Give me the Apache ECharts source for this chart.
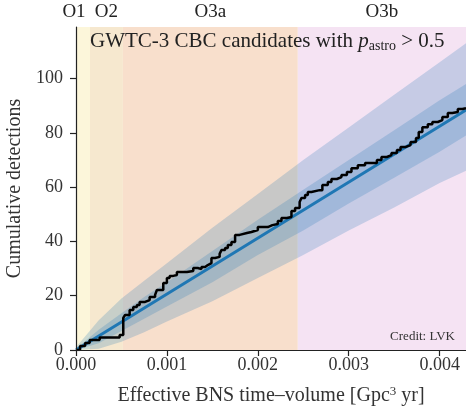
<!DOCTYPE html>
<html><head><meta charset="utf-8">
<script src="https://cdn.jsdelivr.net/npm/echarts@6/dist/echarts.min.js"></script>
<style>html,body{margin:0;padding:0;background:#fff}#c{width:466px;height:410px}</style>
</head><body><div id="c"></div>
<script>
// Observing runs (boundaries in Gpc^3 yr)
const runNames = ['O1', 'O2', 'O3a', 'O3b'];
const runBounds = [0, 0.000154, 0.000516, 0.00244, 0.00429];

// Expected (mean) line
const expX = [0, 0.00429];
const expY = [0, 88.4];

// Uncertainty bands
const bandX   = [0, 0.00025, 0.0005, 0.00075, 0.001, 0.0015, 0.002, 0.0025, 0.003, 0.0035, 0.004, 0.00429];
const outerLo = [0, 0.5, 3, 6.5, 10.5, 18, 26.5, 35, 44, 52.5, 61.5, 66];
const outerHi = [1, 11, 19, 25.5, 32, 45, 57.5, 70, 82, 94, 106, 113];
const innerLo = [0, 2.5, 7, 11.5, 16, 25, 35, 44, 54, 63.5, 73, 79];
const innerHi = [0.5, 7.5, 13.5, 19.5, 25, 36.5, 48, 59, 70, 81, 92, 98];

const obsX = [0, 0.000044, 0.0001, 0.00015, 0.00026, 0.00045, 0.00048, 0.00052, 0.00054, 0.00059, 0.00063, 0.00067, 0.0007, 0.00076, 0.00081, 0.00087, 0.00089, 0.00093, 0.00096, 0.001, 0.00103, 0.00107, 0.00111, 0.00122, 0.00129, 0.00134, 0.00138, 0.00142, 0.00145, 0.00149, 0.00153, 0.00158, 0.0016, 0.00164, 0.00167, 0.00171, 0.00175, 0.0018, 0.00188, 0.00193, 0.002, 0.00205, 0.00211, 0.00216, 0.00222, 0.00226, 0.00232, 0.00237, 0.00241, 0.00246, 0.00248, 0.00252, 0.00255, 0.00259, 0.00268, 0.00271, 0.00277, 0.00281, 0.00287, 0.00292, 0.00298, 0.00303, 0.0031, 0.00318, 0.00325, 0.00331, 0.00336, 0.00342, 0.00347, 0.00353, 0.00357, 0.00363, 0.00368, 0.00374, 0.00377, 0.00381, 0.00387, 0.00392, 0.00398, 0.00403, 0.00409, 0.00414, 0.0042, 0.00425, 0.00429];
const obsY = [0, 1.5, 2.6, 3.7, 4.6, 4.6, 5.5, 11.8, 12.9, 14.7, 15.8, 16.6, 17.7, 18.4, 19.5, 20.3, 22.1, 22.1, 24.7, 26.5, 27.3, 27.6, 28.7, 29.1, 30.2, 29.8, 30.6, 31.3, 32, 33.9, 34.3, 35.4, 36.8, 37.6, 38.7, 39.8, 42.4, 43.1, 43.5, 44.2, 45.3, 45.3, 46, 46.4, 47.5, 48.6, 49, 51.2, 52.3, 54.5, 56, 57.1, 58.2, 58.9, 58.9, 60.8, 61.9, 63, 63.7, 64.5, 65.6, 67, 68.1, 68.9, 68.9, 70, 71.1, 71.8, 72.6, 73.7, 74.8, 75.5, 76.6, 78.1, 80.3, 82.1, 83.2, 84, 84.7, 85.8, 87.3, 87.7, 88.8, 89.1, 89.1];

// Axis ticks
const xTicks = [0, 0.001, 0.002, 0.003, 0.004];
const yTicks = [0, 20, 40, 60, 80, 100];

const runColors = ['#fcf6da', '#f6e8cf', '#f8dfcc', '#f5e3f3'];
const runEdge = ['#f3dc9a', '#f2c594', '#ebbcc4'];
const FONT = "'Liberation Serif', 'DejaVu Serif', serif";

const chart = echarts.init(document.getElementById('c'), null, {renderer: 'canvas'});

function bandSeries(lo, hi, color, z) {
  return {
    type: 'custom', z: z, silent: true, clip: true,
    data: [0],
    renderItem: function (params, api) {
      const pts = [];
      for (let i = 0; i < bandX.length; i++) pts.push(api.coord([bandX[i], hi[i]]));
      for (let i = bandX.length - 1; i >= 0; i--) pts.push(api.coord([bandX[i], lo[i]]));
      return {type: 'polygon', shape: {points: pts}, style: {fill: color}};
    }
  };
}

const areas = runNames.map((n, i) => [
  {xAxis: runBounds[i], name: n, itemStyle: {color: runColors[i]},
   label: {offset: i === 0 ? [-9, 0] : [0, 0]}},
  {xAxis: runBounds[i + 1]}
]);

const option = {
  animation: false,
  grid: {left: 76, top: 27, right: 0, bottom: 60, outerBoundsMode: 'none', containLabel: false},
  xAxis: [{
    type: 'value', min: 0, max: 0.00429, interval: 0.001,
    name: 'Effective BNS time–volume [Gpc{sup|3} yr]',
    nameLocation: 'middle', nameGap: 35,
    nameTextStyle: {fontFamily: FONT, fontSize: 20, color: '#333',
      rich: {sup: {fontFamily: FONT, fontSize: 13, verticalAlign: 'top', padding: [0, 0, 9, 0], color: '#333'}}},
    axisLine: {show: true, onZero: false, lineStyle: {color: '#222', width: 1.2}},
    axisTick: {show: true, length: 6, lineStyle: {color: '#222', width: 1.2}},
    axisLabel: {fontFamily: FONT, fontSize: 18, color: '#333', margin: 6, showMaxLabel: false,
      formatter: v => xTicks.some(t => Math.abs(t - v) < 1e-9) ? v.toFixed(3) : ''},
    splitLine: {show: false}, z: 10
  }, {
    type: 'value', position: 'top', min: 0, max: 0.00429,
    axisLine: {show: true, lineStyle: {color: '#222', width: 1.2}},
    axisTick: {show: false}, axisLabel: {show: false}, splitLine: {show: false}, z: 10
  }],
  yAxis: {
    type: 'value', min: 0, max: 119, interval: 20,
    name: 'Cumulative detections', nameLocation: 'middle', nameGap: 51,
    nameTextStyle: {fontFamily: FONT, fontSize: 20, color: '#333'},
    axisLine: {show: true, onZero: false, lineStyle: {color: '#222', width: 1.2}},
    axisTick: {show: true, length: 6, lineStyle: {color: '#222', width: 1.2}},
    axisLabel: {fontFamily: FONT, fontSize: 18, color: '#333', margin: 13, showMaxLabel: false,
      formatter: v => yTicks.includes(v) ? String(v) : ''},
    splitLine: {show: false}, z: 10
  },
  series: [
    {
      type: 'line', data: [], z: 1, silent: true,
      markArea: {
        silent: true,
        label: {show: true, position: 'top', distance: 5, fontFamily: FONT, fontSize: 19, color: '#222'},
        data: areas
      },
      markLine: {
        silent: true, symbol: 'none', label: {show: false},
        data: runEdge.map((c, i) => ({xAxis: runBounds[i + 1], lineStyle: {color: c, width: 1, type: 'solid'}}))
      }
    },
    bandSeries(outerLo, outerHi, 'rgba(31,119,180,0.22)', 2),
    bandSeries(innerLo, innerHi, 'rgba(31,119,180,0.22)', 3),
    {
      type: 'line', z: 4, silent: true, symbol: 'none',
      data: expX.map((x, i) => [x, expY[i]]),
      lineStyle: {color: '#1f77b4', width: 3}
    },
    {
      type: 'line', z: 5, silent: true, symbol: 'none', step: 'end',
      data: obsX.map((x, i) => [x, obsY[i]]),
      lineStyle: {color: '#000', width: 2.5}
    }
  ],
  graphic: [
    {type: 'text', left: 90, top: 31, z: 20,
     style: {text: 'GWTC-3 CBC candidates with {i|p}{sub|astro} > 0.5', font: "21px " + FONT, fill: '#222',
       rich: {i: {fontStyle: 'italic', fontFamily: FONT, fontSize: 21, fill: '#222'},
              sub: {fontFamily: FONT, fontSize: 14, fill: '#222', padding: [9, 0, 0, 0]}}}},
    {type: 'text', right: 11, top: 330, z: 20,
     style: {text: 'Credit: LVK', font: "13px " + FONT, fill: '#333'}}
  ]
};
chart.setOption(option);
</script>
</body></html>
